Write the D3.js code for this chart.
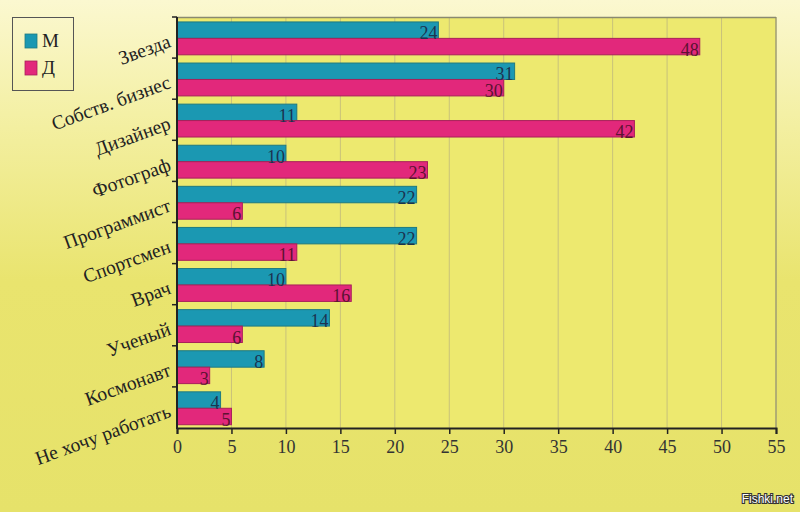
<!DOCTYPE html>
<html><head><meta charset="utf-8">
<script src="https://cdn.jsdelivr.net/npm/d3@7"></script>
<style>html,body{margin:0;padding:0;}svg{display:block;}</style>
</head><body>
<script>
const categories = ["Звезда","Собств. бизнес","Дизайнер","Фотограф","Программист","Спортсмен","Врач","Ученый","Космонавт","Не хочу работать"];
const seriesNames = ["М","Д"];
const valuesM = [24,31,11,10,22,22,10,14,8,4];
const valuesD = [48,30,42,23,6,11,16,6,3,5];
const xTicks = [0,5,10,15,20,25,30,35,40,45,50,55];

(function(){
const W=800,H=512;
const svg=d3.select("body").append("svg").attr("width",W).attr("height",H);
const defs=svg.append("defs");
const g=defs.append("linearGradient").attr("id","bg").attr("x1",0).attr("y1",0).attr("x2",0).attr("y2",1);
g.append("stop").attr("offset","0%").attr("stop-color","#fbf8d0");
g.append("stop").attr("offset","25%").attr("stop-color","#f3efa0");
g.append("stop").attr("offset","55%").attr("stop-color","#e9e46e");
g.append("stop").attr("offset","100%").attr("stop-color","#e6e26a");
svg.append("rect").attr("width",W).attr("height",H).attr("fill","url(#bg)");

const pl=177,pr=776,pt=17,pb=428;
const x=d3.scaleLinear().domain([0,55]).range([pl,pr]);
const y=d3.scaleBand().domain(categories).range([pt,pb]).paddingInner(0).paddingOuter(0);
const bw=y.bandwidth();
const inner=d3.scaleBand().domain(seriesNames).range([bw*0.12,bw*0.92]);

svg.append("rect").attr("x",pl).attr("y",pt).attr("width",pr-pl).attr("height",pb-pt).attr("fill","#ede96f");

svg.append("g").selectAll("line").data(xTicks.slice(1)).join("line")
  .attr("x1",d=>x(d)).attr("x2",d=>x(d)).attr("y1",pt).attr("y2",pb)
  .attr("stroke","#c9c27a").attr("stroke-width",1);
svg.append("line").attr("x1",pl).attr("x2",pr).attr("y1",pt+0.5).attr("y2",pt+0.5).attr("stroke","#8a8a70").attr("stroke-width",1.5);
svg.append("line").attr("x1",pr).attr("x2",pr).attr("y1",pt).attr("y2",pb).attr("stroke","#8a8a70").attr("stroke-width",1);

const colors={"М":"#1b98b2","Д":"#e2287b"};
const strokes={"М":"#1f7a80","Д":"#a8205a"};
const textCol={"М":"#1b3350","Д":"#5c1232"};
const data=[];
categories.forEach((c,i)=>{data.push({c,s:"М",v:valuesM[i]});data.push({c,s:"Д",v:valuesD[i]});});

svg.append("g").selectAll("rect").data(data).join("rect")
  .attr("x",x(0)).attr("y",d=>y(d.c)+inner(d.s)).attr("width",d=>x(d.v)-x(0)).attr("height",inner.bandwidth())
  .attr("fill",d=>colors[d.s]).attr("stroke",d=>strokes[d.s]).attr("stroke-width",1);

svg.append("g").selectAll("text").data(data).join("text")
  .attr("x",d=>x(d.v)-1).attr("y",d=>y(d.c)+inner(d.s)+inner.bandwidth()+1)
  .attr("text-anchor","end").attr("font-family","Liberation Serif, serif").attr("font-size",18)
  .attr("fill",d=>textCol[d.s]).text(d=>d.v);

const xAxis=svg.append("g").attr("transform",`translate(0,${pb})`)
  .call(d3.axisBottom(x).tickValues(xTicks).tickSize(6).tickPadding(6));
xAxis.select(".domain").attr("stroke","#222").attr("stroke-width",2);
xAxis.selectAll(".tick line").attr("stroke","#222").attr("stroke-width",1.5);
xAxis.selectAll("text").attr("font-family","Liberation Serif, serif").attr("font-size",18).attr("fill","#333");

const boundaries=categories.map(c=>y(c)+bw).slice(0,-1);
svg.append("line").attr("x1",pl).attr("x2",pl).attr("y1",pt).attr("y2",pb+1).attr("stroke","#222").attr("stroke-width",2);
svg.append("g").selectAll("line").data([pt].concat(boundaries)).join("line")
  .attr("x1",pl-5).attr("x2",pl).attr("y1",d=>d).attr("y2",d=>d).attr("stroke","#222").attr("stroke-width",1.5);

svg.append("g").selectAll("text").data(categories).join("text")
  .attr("transform",c=>`translate(${pl-5},${y(c)+bw/2+9}) rotate(-20)`)
  .attr("text-anchor","end").attr("font-family","Liberation Serif, serif").attr("font-size",19.5)
  .attr("fill","#222").text(c=>c);

const lg=svg.append("g");
lg.append("rect").attr("x",12.5).attr("y",17.5).attr("width",61).attr("height",73).attr("fill","none").attr("stroke","#555").attr("stroke-width",1);
seriesNames.forEach((s,i)=>{
  lg.append("rect").attr("x",25).attr("y",34+i*27).attr("width",12).attr("height",14)
    .attr("fill",colors[s]).attr("stroke",strokes[s]).attr("stroke-width",0.8);
  lg.append("text").attr("x",42).attr("y",47+i*27).attr("font-family","Liberation Serif, serif").attr("font-size",19).attr("fill","#222").text(s);
});

svg.append("text").attr("x",793).attr("y",503).attr("text-anchor","end")
  .attr("font-family","Liberation Sans, Arial, sans-serif").attr("font-size",12)
  .attr("fill","#fff").attr("stroke","#333").attr("stroke-width",2.2).attr("paint-order","stroke").text("Fishki.net");
})();
</script>
</body></html>
